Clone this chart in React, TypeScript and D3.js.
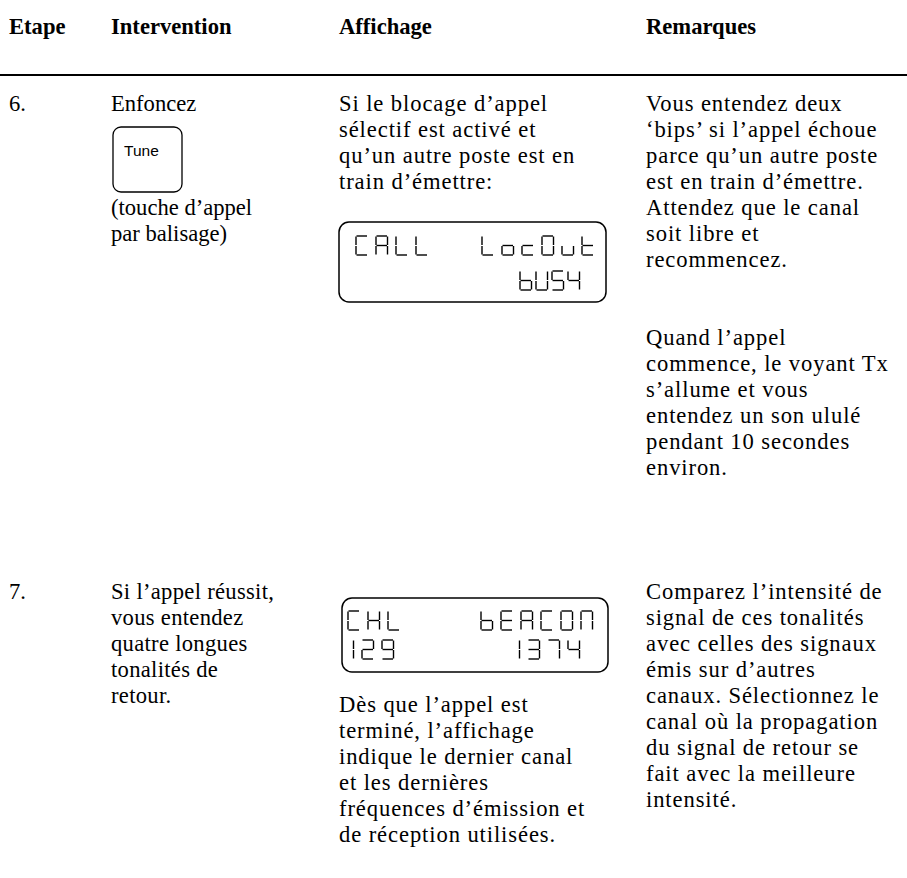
import React, { useEffect, useRef } from 'react';
import * as d3 from 'd3';

// table text
const headers = ['Etape', 'Intervention', 'Affichage', 'Remarques'];
const stepNumbers = ['6.', '7.'];
const step6Action = ['Enfoncez'];
const step6ActionNote = ['(touche d’appel', 'par balisage)'];
const step6Display = ['Si le blocage d’appel', 'sélectif est activé et', 'qu’un autre poste est en', 'train d’émettre:'];
const step6Notes = ['Vous entendez deux', '‘bips’ si l’appel échoue', 'parce qu’un autre poste', 'est en train d’émettre.', 'Attendez que le canal', 'soit libre et', 'recommencez.'];
const step6NotesMore = ['Quand l’appel', 'commence, le voyant Tx', 's’allume et vous', 'entendez un son ululé', 'pendant 10 secondes', 'environ.'];
const step7Action = ['Si l’appel réussit,', 'vous entendez', 'quatre longues', 'tonalités de', 'retour.'];
const step7Display = ['Dès que l’appel est', 'terminé, l’affichage', 'indique le dernier canal', 'et les dernières', 'fréquences d’émission et', 'de réception utilisées.'];
const step7Notes = ['Comparez l’intensité de', 'signal de ces tonalités', 'avec celles des signaux', 'émis sur d’autres', 'canaux. Sélectionnez le', 'canal où la propagation', 'du signal de retour se', 'fait avec la meilleure', 'intensité.'];
const keyLabel = 'Tune';
const lcdOneRows = ['CALL', 'LocOut', 'bUS4'];
const lcdTwoRows = ['CHL', 'bEACON', '129', '1374'];

// 7-segment glyphs
const SEGS: Record<string, string> = {
  C: 'afed', A: 'abcefg', L: 'fed', o: 'gcde', c: 'ged', O: 'abcdef', u: 'edc', t: 'fedg',
  b: 'fedcg', U: 'fedcb', S: 'afgcd', '4': 'fgbc', H: 'febcg', '1': 'bc', '2': 'abged',
  '9': 'abcdfg', E: 'afged', N: 'efabc', '3': 'abgcd', '7': 'abc'
};

const W = 907;
const H = 878;
const FONT = '"Liberation Serif", "Times New Roman", serif';
const SIZE = 22.6;
const LEAD = 26;
const colX = [9, 111, 339, 646];

export default function App() {
  const ref = useRef<SVGSVGElement>(null);

  useEffect(() => {
    const svg = d3.select(ref.current);
    svg.selectAll('*').remove();

    const block = (lines: string[], x: number, y0: number, spacing = 0) => {
      svg.append('g').selectAll('text').data(lines).enter().append('text')
        .attr('x', x)
        .attr('y', (d, i) => y0 + i * LEAD)
        .attr('font-family', FONT)
        .attr('font-size', SIZE)
        .attr('letter-spacing', spacing)
        .attr('fill', '#000')
        .text(d => d);
    };

    // header
    svg.append('g').selectAll('text').data(headers).enter().append('text')
      .attr('x', (d, i) => colX[i])
      .attr('y', 34)
      .attr('font-family', FONT)
      .attr('font-size', SIZE)
      .attr('font-weight', 'bold')
      .text(d => d);

    svg.append('line')
      .attr('x1', 0).attr('x2', W)
      .attr('y1', 75).attr('y2', 75)
      .attr('stroke', '#000').attr('stroke-width', 2);

    // step 6
    block([stepNumbers[0]], colX[0], 111);
    block(step6Action, colX[1], 111);
    block(step6ActionNote, colX[1], 215);
    block(step6Display, colX[2], 111, 0.9);
    block(step6Notes, colX[3], 111, 0.9);
    block(step6NotesMore, colX[3], 345, 0.9);

    // step 7
    block([stepNumbers[1]], colX[0], 599);
    block(step7Action, colX[1], 599, 0.3);
    block(step7Display, colX[2], 712, 0.9);
    block(step7Notes, colX[3], 599, 0.9);

    // Tune key
    svg.append('rect')
      .attr('x', 113).attr('y', 127).attr('width', 69).attr('height', 65)
      .attr('rx', 8)
      .attr('fill', 'none').attr('stroke', '#000').attr('stroke-width', 1.3);
    svg.append('text')
      .attr('x', 124).attr('y', 156)
      .attr('font-family', '"Liberation Sans", Arial, sans-serif')
      .attr('font-size', 15.5)
      .text(keyLabel);

    // LCD panels
    const segLine = (k: string, x: number, y: number, w: number, h: number): [number, number][] => {
      const g = 0.5;
      const m = h / 2;
      switch (k) {
        case 'a': return [[x + g, y], [x + w - g, y]];
        case 'g': return [[x + g, y + m], [x + w - g, y + m]];
        case 'd': return [[x + g, y + h], [x + w - g, y + h]];
        case 'f': return [[x, y + g], [x, y + m - g]];
        case 'e': return [[x, y + m + g], [x, y + h - g]];
        case 'b': return [[x + w, y + g], [x + w, y + m - g]];
        default: return [[x + w, y + m + g], [x + w, y + h - g]];
      }
    };
    const line = d3.line();

    const lcdText = (str: string, x0: number, y0: number, pitch: number, cw = 11.5, ch = 19) => {
      const g = svg.append('g');
      str.split('').forEach((c, i) => {
        (SEGS[c] || '').split('').forEach(k => {
          g.append('path')
            .attr('d', line(segLine(k, x0 + i * pitch, y0, cw, ch)))
            .attr('stroke', '#000')
            .attr('stroke-width', 1.4)
            .attr('fill', 'none');
        });
      });
    };

    const panel = (x: number, y: number, w: number, h: number) => {
      svg.append('rect')
        .attr('x', x).attr('y', y).attr('width', w).attr('height', h)
        .attr('rx', 10)
        .attr('fill', 'none').attr('stroke', '#000').attr('stroke-width', 1.5);
    };

    panel(339, 222, 267, 80);
    lcdText(lcdOneRows[0], 356, 236, 20);
    lcdText(lcdOneRows[1], 482, 236, 20);
    lcdText(lcdOneRows[2], 520, 271, 16);

    panel(342, 598, 266, 74);
    lcdText(lcdTwoRows[0], 348, 611, 20);
    lcdText(lcdTwoRows[1], 481, 611, 20);
    lcdText(lcdTwoRows[2], 342, 640, 20);
    lcdText(lcdTwoRows[3], 508, 640, 20);
  }, []);

  return (
    <svg ref={ref} width={W} height={H}
      style={{ position: 'absolute', left: 0, top: 0, background: '#fff' }} />
  );
}
